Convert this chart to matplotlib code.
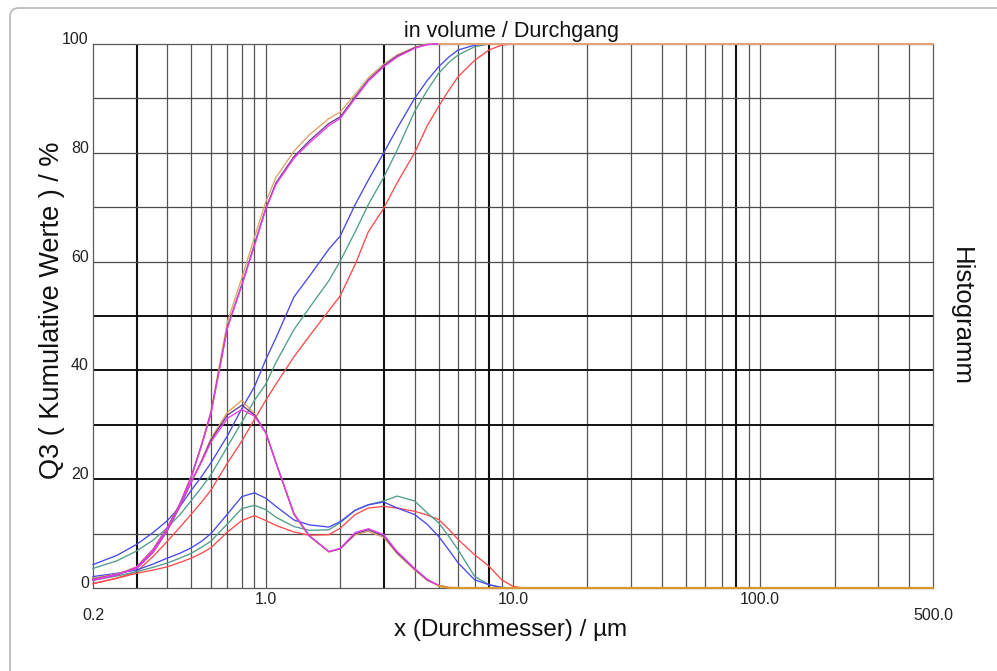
import matplotlib
matplotlib.use("Agg")
import matplotlib.pyplot as plt
from matplotlib import transforms
from matplotlib.patches import FancyBboxPatch
from matplotlib.ticker import NullLocator

plt.rcParams['font.family'] = ['Liberation Sans', 'DejaVu Sans']

# ---------------- data ----------------
x_um = [0.2, 0.25, 0.3, 0.35, 0.4, 0.45, 0.5, 0.55, 0.6, 0.7, 0.8, 0.9, 1.0, 1.1, 1.3,
        1.5, 1.8, 2.0, 2.3, 2.6, 3.0, 3.4, 4.0, 4.5, 5.0, 5.5, 6.0, 7.0, 8.0, 9.0,
        10.0, 11.0, 500.0]

# cumulative Q3 (%)
cum_tan = [1.6, 2.5, 3.9, 7.2, 11.2, 15.6, 20.6, 26.5, 32.5, 49.0, 57.0, 64.5, 71.0, 75.5, 80.3,
           83.3, 86.3, 87.5, 90.8, 93.8, 96.3, 98.0, 99.4, 100.0, 100.0, 100.0, 100.0, 100.0, 100.0, 100.0,
           100.0, 100.0, 100.0]
cum_magenta = [1.4, 2.4, 3.8, 7.0, 11.0, 15.4, 20.4, 26.2, 32.0, 47.8, 55.6, 62.9, 69.6, 74.2, 79.0,
               81.8, 85.0, 86.3, 90.0, 93.2, 95.8, 97.6, 99.2, 99.9, 100.0, 100.0, 100.0, 100.0, 100.0, 100.0,
               100.0, 100.0, 100.0]
cum_purple = [1.5, 2.4, 3.8, 7.0, 11.1, 15.5, 20.5, 26.3, 32.2, 48.0, 55.8, 63.2, 69.8, 74.5, 79.3,
              82.2, 85.4, 86.6, 90.3, 93.4, 96.0, 97.8, 99.3, 99.9, 100.0, 100.0, 100.0, 100.0, 100.0, 100.0,
              100.0, 100.0, 100.0]
cum_blue = [4.3, 6.0, 8.0, 10.2, 12.4, 15.0, 18.0, 20.5, 23.0, 28.0, 33.0, 37.0, 42.0, 46.0, 53.5,
            57.3, 62.3, 64.7, 70.5, 75.0, 80.0, 84.5, 90.0, 93.3, 95.8, 97.6, 98.9, 99.8, 100.0, 100.0,
            100.0, 100.0, 100.0]
cum_teal = [3.6, 5.0, 6.8, 8.8, 11.1, 13.5, 16.1, 18.5, 20.8, 26.0, 30.5, 34.5, 37.5, 41.5, 47.5,
            51.5, 56.5, 60.1, 65.5, 70.5, 75.5, 80.5, 87.6, 91.5, 94.6, 96.6, 98.0, 99.5, 100.0, 100.0,
            100.0, 100.0, 100.0]
cum_red = [0.8, 1.8, 3.0, 5.8, 8.6, 11.2, 13.6, 15.8, 18.0, 23.0, 27.0, 31.0, 34.5, 37.5, 42.5,
           46.3, 51.0, 53.7, 59.5, 65.5, 69.8, 74.5, 80.0, 85.0, 88.5, 91.5, 94.0, 97.0, 98.9, 99.8,
           100.0, 100.0, 100.0]

# histogram (density)
hist_tan = [1.8, 2.6, 3.6, 6.5, 10.5, 15.0, 19.5, 23.5, 27.5, 32.3, 34.5, 32.0, 28.5, 23.0, 13.5,
            9.5, 6.6, 7.2, 9.8, 10.4, 9.3, 6.3, 3.3, 1.4, 0.4, 0.05, 0.0, 0.0, 0.0, 0.0,
            0.0, 0.0, 0.0]
hist_magenta = [1.5, 2.5, 3.6, 6.6, 10.7, 15.2, 19.6, 23.2, 26.8, 31.2, 32.8, 31.6, 28.5, 23.0, 13.7,
                9.6, 6.7, 7.3, 10.2, 10.9, 9.8, 6.7, 3.6, 1.6, 0.5, 0.05, 0.0, 0.0, 0.0, 0.0,
                0.0, 0.0, 0.0]
hist_purple = [1.6, 2.5, 3.6, 6.6, 10.6, 15.1, 19.5, 23.3, 27.2, 31.8, 33.6, 31.8, 28.6, 23.0, 13.6,
               9.6, 6.7, 7.2, 10.0, 10.7, 9.6, 6.5, 3.5, 1.5, 0.5, 0.05, 0.0, 0.0, 0.0, 0.0,
               0.0, 0.0, 0.0]
hist_blue = [2.1, 2.7, 3.3, 4.4, 5.5, 6.4, 7.4, 8.6, 10.0, 13.6, 16.8, 17.5, 16.5, 15.0, 12.5,
             11.6, 11.2, 12.2, 14.3, 15.3, 15.8, 14.7, 13.5, 11.7, 9.5, 7.0, 4.6, 1.5, 0.6, 0.1,
             0.0, 0.0, 0.0]
hist_teal = [1.4, 2.2, 3.0, 3.8, 4.6, 5.5, 6.4, 7.5, 8.6, 11.8, 14.6, 15.2, 14.4, 13.0, 11.3,
             10.6, 10.7, 12.0, 14.3, 15.3, 16.0, 16.9, 16.0, 13.8, 12.0, 9.5, 7.0, 2.1, 0.6, 0.1,
             0.0, 0.0, 0.0]
hist_red = [0.8, 1.8, 2.7, 3.3, 3.9, 4.7, 5.5, 6.4, 7.4, 10.3, 12.4, 13.3, 12.4, 11.5, 10.3,
            9.7, 9.8, 11.0, 13.5, 14.7, 15.0, 14.7, 14.1, 13.4, 12.6, 10.8, 8.9, 6.1, 4.0, 1.5,
            0.3, 0.0, 0.0]

x_tick_values = [0.2, 1.0, 10.0, 100.0, 500.0]
x_tick_labels = ["0.2", "1.0", "10.0", "100.0", "500.0"]
y_tick_values = [0, 20, 40, 60, 80, 100]

grid_x = [0.3, 0.4, 0.5, 0.6, 0.7, 0.8, 0.9, 1, 2, 3, 4, 5, 6, 7, 8, 9, 10,
          20, 30, 40, 50, 60, 70, 80, 90, 100, 200, 300, 400]
grid_x_dark = [0.3, 3, 8, 80]
grid_y = [10, 20, 30, 40, 50, 60, 70, 80, 90]
grid_y_dark = [20, 30, 40, 50]

# ---------------- figure ----------------
W, H = 997, 671
fig = plt.figure(figsize=(W / 100, H / 100), dpi=100)
fig.patch.set_facecolor("white")

# outer rounded frame (only top/left visible)
frame = FancyBboxPatch((10, -40), 1040, H - 8 + 40, boxstyle="round,pad=0,rounding_size=9",
                       transform=transforms.IdentityTransform(), fill=False,
                       edgecolor="#bdbdbd", linewidth=1.3)
fig.add_artist(frame)

ax = fig.add_axes([93 / W, 1 - 588 / H, 840 / W, 544 / H])
ax.set_xscale("log")
ax.set_xlim(0.2, 500)
ax.set_ylim(0, 100)
ax.xaxis.set_major_locator(NullLocator())
ax.xaxis.set_minor_locator(NullLocator())
ax.tick_params(axis="both", which="both", length=0)
ax.set_yticks(y_tick_values)
ax.set_yticklabels([str(v) for v in y_tick_values], fontsize=11.5, color="#222222")
ax.tick_params(axis="y", pad=3)
for lbl in ax.get_yticklabels():
    lbl.set_verticalalignment("baseline")

for sp in ax.spines.values():
    sp.set_color("#5a5a5a")
    sp.set_linewidth(0.9)

for gx in grid_x:
    dark = gx in grid_x_dark
    ax.axvline(gx, color="#111111" if dark else "#555555", lw=1.5 if dark else 0.9, zorder=1)
for gy in grid_y:
    dark = gy in grid_y_dark
    ax.axhline(gy, color="#111111" if dark else "#4a4a4a", lw=1.4 if dark else 0.9, zorder=1)

lw = 0.95
series = [
    (cum_red, "#ff4a4a"), (cum_teal, "#4f9e8c"), (cum_blue, "#4848f0"),
    (hist_red, "#ff4a4a"), (hist_teal, "#4f9e8c"), (hist_blue, "#4848f0"),
    (cum_tan, "#dca463"), (cum_purple, "#6a3a8a"), (cum_magenta, "#ee3cee"),
    (hist_tan, "#d8a058"), (hist_purple, "#6a3a8a"), (hist_magenta, "#ee3cee"),
]
for vals, col in series:
    ax.plot(x_um, vals, color=col, lw=lw, zorder=3, clip_on=False)

# the tan curves lie on top where all runs coincide (beyond 5 µm)
tail = [i for i, xv in enumerate(x_um) if xv >= 5.0]
ax.plot([x_um[i] for i in tail], [cum_tan[i] for i in tail], color="#eab468", lw=1.2, zorder=4, clip_on=False)
ax.plot([x_um[i] for i in tail], [hist_tan[i] for i in tail], color="#d9982e", lw=1.6, zorder=4, clip_on=False)

# x tick labels
trans = transforms.blended_transform_factory(ax.transData, ax.transAxes)
for v, t in zip(x_tick_values, x_tick_labels):
    yoff = -0.05 if v in (0.2, 500.0) else -0.022
    ax.text(v, yoff, t, transform=trans, ha="center", va="center", fontsize=11.5, color="#222222")

fig.text(511 / W, 1 - 630 / H, "x (Durchmesser) / µm", ha="center", va="center", fontsize=17.5, color="#111111")
fig.text(52 / W, 1 - 310 / H, "Q3 ( Kumulative Werte ) / %", ha="center", va="center",
         rotation=90, fontsize=19.5, color="#111111")
fig.text(511 / W, 1 - 31 / H, "in volume / Durchgang", ha="center", va="center", fontsize=15.5, color="#111111")
fig.text(961 / W, 1 - 317 / H, "Histogramm", ha="center", va="center", rotation=-90,
         fontsize=18.5, color="#111111")

fig.savefig("out.png", dpi=100)
